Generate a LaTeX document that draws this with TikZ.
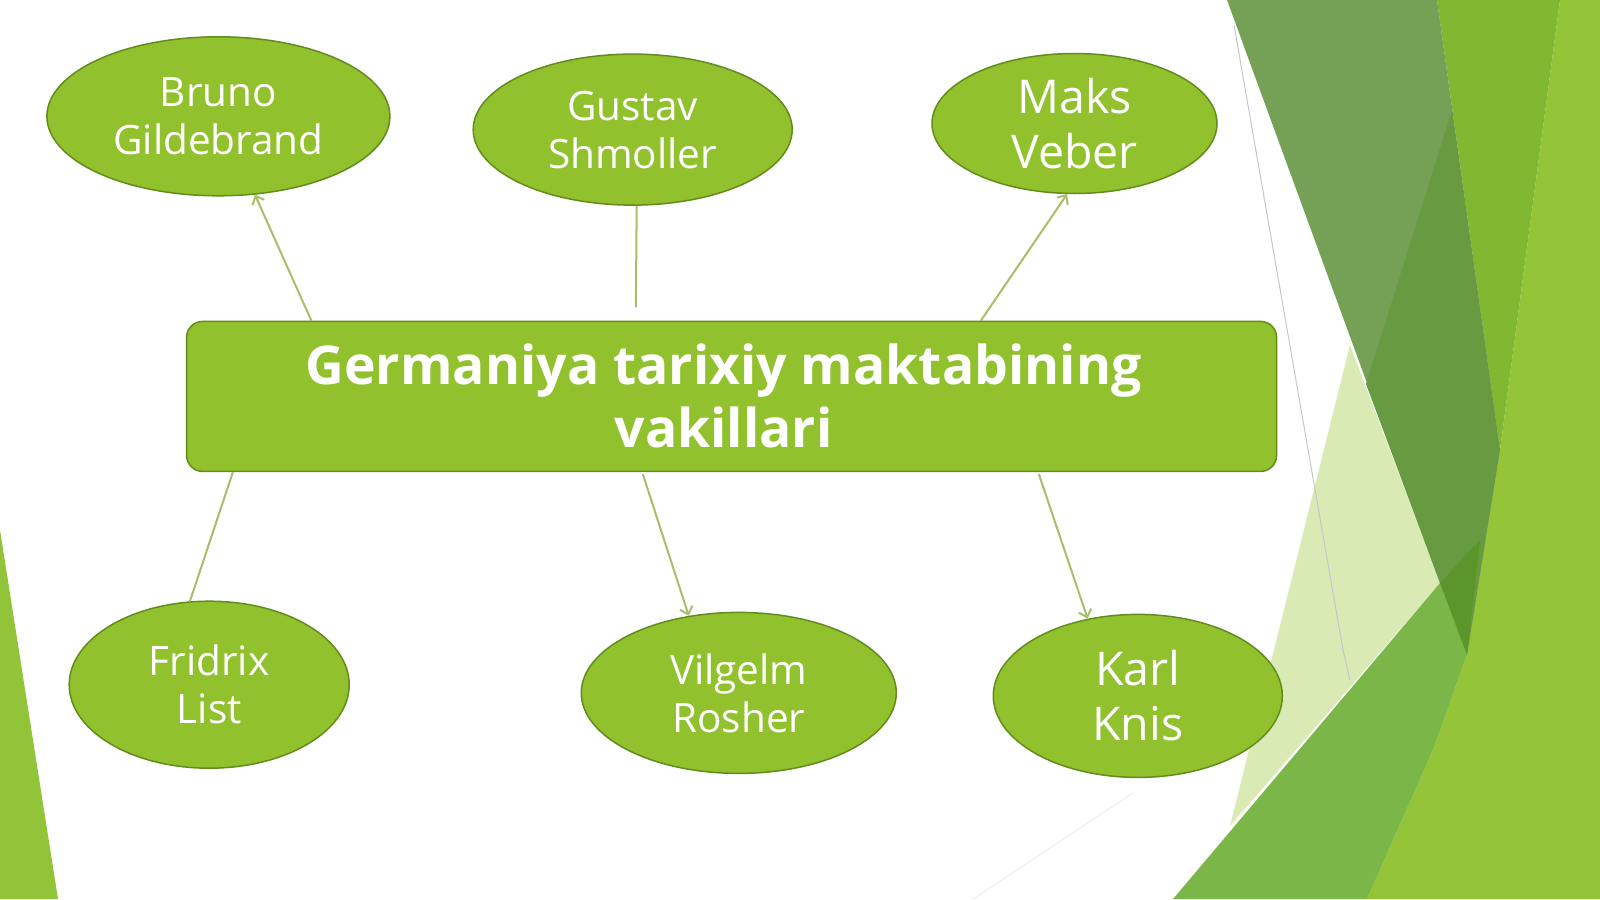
\documentclass[tikz,border=0pt]{standalone}
\usepackage{fontspec}
\setmainfont{Open Sans}
\usetikzlibrary{shapes.geometric,arrows.meta,calc}
\definecolor{fillg}{RGB}{145,193,45}
\definecolor{lineg}{RGB}{98,140,28}
\definecolor{conng}{RGB}{168,190,105}
\definecolor{bgbright}{RGB}{148,197,56}
\definecolor{bgband}{RGB}{128,184,50}
\definecolor{bgdark}{RGB}{116,161,86}
\definecolor{bgdark2}{RGB}{104,154,66}
\definecolor{bgdarker}{RGB}{90,150,42}
\definecolor{bgmed}{RGB}{122,182,72}
\definecolor{bgpale}{RGB}{218,234,180}
\definecolor{bgline}{RGB}{195,200,205}
\definecolor{bgfaint}{RGB}{236,238,240}
\definecolor{bgleft}{RGB}{146,196,58}
\tikzset{
  ell/.style={ellipse,draw=lineg,line width=1.5bp,fill=fillg,text=white,align=center,inner sep=0pt,
    font=\fontsize{40.5bp}{48bp}\selectfont},
  bigell/.style={ell,font=\fontsize{46.5bp}{55bp}\selectfont},
  mainbox/.style={rectangle,rounded corners=16bp,draw=lineg,line width=1.5bp,fill=fillg,text=white,
    align=center,inner sep=0pt,minimum width=1090bp,minimum height=150bp,
    font=\fontsize{53.5bp}{63bp}\selectfont\bfseries},
  conn/.style={draw=conng,line width=2bp},
  arr/.style={conn,-{Straight Barb[length=7bp,width=13bp]}}
}
\begin{document}
\begin{tikzpicture}[x=1bp,y=-1bp]
\useasboundingbox (0,0) rectangle (1600,899);
\fill[white] (0,0) rectangle (1600,899);
% background decoration
\fill[bgleft] (0,530) -- (58,899) -- (0,899) -- cycle;
\draw[bgfaint,line width=1bp] (1133,793) -- (973,899);
\fill[bgpale] (1350,345) -- (1440,583) -- (1230,826) -- cycle;
\fill[bgbright] (1560,0) -- (1600,0) -- (1600,899) -- (1367,899) -- (1433,750) -- (1467,655) -- (1500,450) -- cycle;
\fill[bgband] (1437,0) -- (1560,0) -- (1500,450) -- cycle;
\fill[bgdark] (1227,0) -- (1437,0) -- (1500,450) -- (1467,655) -- (1440,583) -- cycle;
\fill[bgdark2] (1452,110) -- (1500,450) -- (1467,655) -- (1440,583) -- (1366,384) -- cycle;
\fill[bgmed] (1173,899) -- (1440,583) -- (1467,655) -- (1433,750) -- (1367,899) -- cycle;
\fill[bgdarker] (1440,583) -- (1480,540) -- (1467,655) -- cycle;
\draw[bgline,line width=1bp] (1234,25) -- (1343,650) -- (1350,680);
% nodes
\node[mainbox] (main) at (731.6,396.4) {\hspace*{-16bp}Germaniya tarixiy maktabining\\\hspace*{-16bp}vakillari};
\node[ell,minimum width=343bp,minimum height=159bp] (bruno) at (218.4,116.3) {Bruno\\Gildebrand};
\node[ell,minimum width=319bp,minimum height=151bp] (gustav) at (632.7,129.6) {Gustav\\Shmoller};
\node[bigell,minimum width=285bp,minimum height=140bp] (maks) at (1074.5,123.5) {Maks\\Veber};
\node[ell,minimum width=280bp,minimum height=167bp] (fridrix) at (209.2,684.7) {Fridrix\\List};
\node[ell,minimum width=315bp,minimum height=161bp] (vilgelm) at (738.8,692.9) {Vilgelm\\Rosher};
\node[bigell,minimum width=289bp,minimum height=163bp] (karl) at (1137.8,695.9) {Karl\\Knis};
% connector anchor points on the main box
\coordinate (pb) at ($(main.north west)+(125.5,0)$);
\coordinate (pm) at ($(main.north west)+(795,0)$);
\coordinate (pg) at ($(main.north west)+(450,-13.3)$);
\coordinate (pf) at ($(main.south west)+(47,0)$);
\coordinate (pv) at ($(main.south west)+(457,2)$);
\coordinate (pk) at ($(main.south west)+(853,2)$);
% connectors
\draw[arr] (pb) -- (bruno.295);
\draw[conn] (gustav.273) -- (pg);
\draw[arr] (pm) -- (maks.264);
\draw[conn] (pf) -- (fridrix.103);
\draw[arr] (pv) -- (vilgelm.123);
\draw[arr] (pk) -- (karl.123);
\end{tikzpicture}
\end{document}
